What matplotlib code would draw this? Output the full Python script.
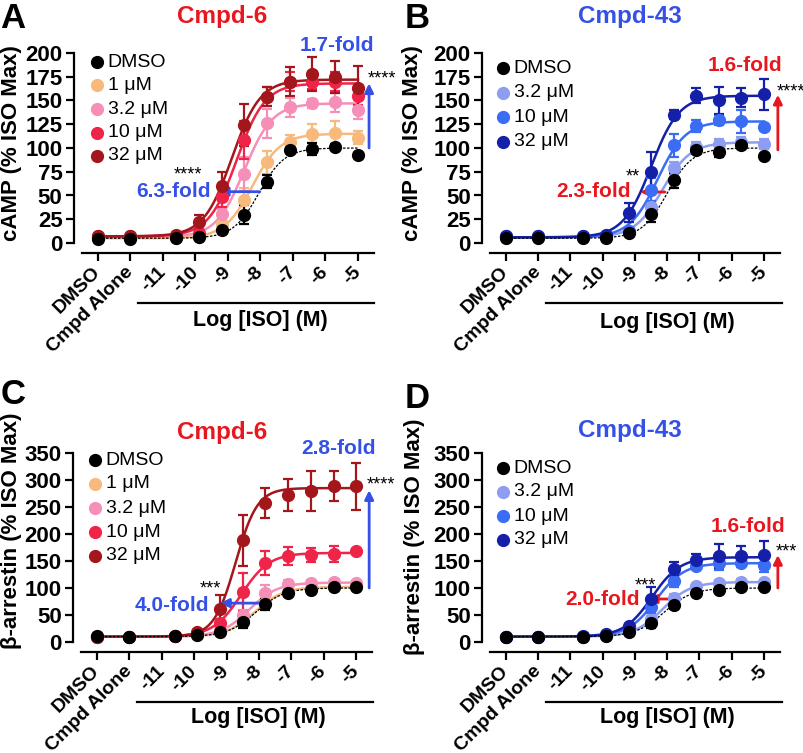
import numpy as np
import matplotlib.pyplot as plt
from matplotlib.lines import Line2D
from matplotlib.transforms import ScaledTranslation

plt.rcParams['font.family'] = ['Liberation Sans', 'DejaVu Sans']

W, H = 804, 753

# x axis: DMSO, Cmpd Alone, then Log [ISO] (M)
x_labels = ['DMSO', 'Cmpd Alone', '-11', '-10', '-9', '-8', '-7', '-6', '-5']
log_iso = [-10.6, -9.9, -9.2, -8.5, -7.8, -7.1, -6.4, -5.7, -5.0]

names_6 = ['DMSO', '1 μM', '3.2 μM', '10 μM', '32 μM']
names_43 = ['DMSO', '3.2 μM', '10 μM', '32 μM']
colors_6 = ['black', '#f8b97c', '#f58fb8', '#ee2448', '#a3161c']
colors_43 = ['black', '#8d9ef2', '#3a6cf4', '#1520a8']

# panel A - cAMP, Cmpd-6 (first two values: DMSO, Cmpd Alone)
a_vals = [
    [4, 4, 5, 6, 13.5, 29.5, 64.5, 98, 99, 101, 92.5],
    [6, 6, 5, 6, 20, 45, 85, 106, 115, 116, 111],
    [6, 6, 6, 8, 30, 73, 126, 143, 147, 148, 140],
    [7, 7, 7, 10, 48, 108, 154, 170, 170, 170, 155],
    [7, 7, 8, 22, 60, 124, 154, 170, 178, 175, 163],
]
a_errs = [
    [1, 1, 1, 1, 2, 10, 7, 3, 6, 3, 2],
    [1, 1, 1, 1, 3, 13, 12, 8, 10, 12, 7],
    [1, 1, 1, 2, 6, 18, 15, 10, 5, 10, 10],
    [1, 1, 1, 3, 10, 20, 10, 10, 8, 10, 10],
    [1, 1, 2, 7, 15, 22, 10, 15, 18, 17, 23],
]
# bottom, top, logEC50, hill
a_fits = [(5, 100, -8.05, 1.1), (5, 115, -8.25, 1.0), (6, 147, -8.5, 1.0),
          (7, 168, -8.73, 1.0), (7, 172, -8.88, 1.0)]

# panel B - cAMP, Cmpd-43
b_vals = [
    [5, 5, 5, 5.5, 11, 31, 66, 98, 96, 103, 91.5],
    [6, 6, 6, 7, 12, 38, 79, 101, 104, 106.5, 104],
    [7, 7, 7, 7, 13, 56, 103, 123, 129.5, 128, 122],
    [7, 7, 7, 8, 32, 75, 135, 155, 150, 153, 156.5],
]
b_errs = [
    [1, 1, 1, 1, 3, 9, 8, 3, 6, 3, 2],
    [1, 1, 1, 1, 2, 6, 6, 5, 5, 5, 5],
    [1, 1, 1, 1, 2, 12, 12, 6, 5, 12, 3],
    [1, 1, 1, 1, 10, 21, 5, 8, 14, 10, 16],
]
b_fits = [(5, 100, -8.0, 1.1), (6, 106, -8.15, 1.0), (6, 128, -8.3, 1.0),
          (6, 155, -8.5, 1.0)]

# panel C - beta-arrestin, Cmpd-6
c_vals = [
    [11, 9, 11, 13, 18, 36.5, 70, 91, 96, 101, 101],
    [11, 9, 11, 13, 19, 40, 72, 92, 98, 102, 102],
    [9, 9, 11, 14, 22, 50, 90, 107, 109, 112, 110],
    [10, 10, 11, 15, 35, 93, 146, 159, 161, 163, 168],
    [10, 10, 12, 18, 62, 188, 258, 272, 280, 289, 288],
]
c_errs = [
    [1, 1, 1, 1, 2, 10, 10, 4, 4, 3, 3],
    [1, 1, 1, 1, 2, 8, 8, 4, 4, 3, 3],
    [1, 1, 1, 1, 3, 10, 15, 8, 5, 5, 3],
    [1, 1, 1, 2, 8, 35, 22, 17, 13, 14, 3],
    [1, 1, 1, 3, 25, 48, 28, 30, 37, 27, 43],
]
c_fits = [(10, 100, -8.1, 1.0), (10, 102, -8.12, 1.0), (10, 110, -8.3, 1.0),
          (10, 165, -8.55, 1.0), (10, 285, -8.72, 1.3)]

# panel D - beta-arrestin, Cmpd-43
d_vals = [
    [10, 9, 10, 11, 18.5, 36, 68.5, 91, 96, 101, 101],
    [10, 10, 10, 12, 20, 42, 82, 103, 110, 112, 111],
    [10, 10, 10, 13, 25, 65, 113, 141, 146, 147, 143],
    [10, 10, 11, 15, 30, 79, 135, 151, 159, 159, 161],
]
d_errs = [
    [1, 1, 1, 1, 2, 10, 8, 4, 4, 3, 3],
    [1, 1, 1, 1, 2, 6, 6, 4, 4, 4, 4],
    [1, 1, 1, 1, 3, 12, 12, 5, 13, 8, 13],
    [1, 1, 1, 2, 4, 22, 13, 12, 22, 18, 26],
]
d_fits = [(10, 100, -8.1, 1.0), (10, 111, -8.15, 1.0), (10, 146, -8.35, 1.0),
          (10, 157, -8.47, 1.0)]

BLUE = '#3550e6'
RED = '#e8171f'


def fx(px):
    return px / W


def fy(py):
    return 1 - py / H


def logistic(x, bottom, top, logec50, hill):
    return bottom + (top - bottom) / (1 + 10 ** ((logec50 - x) * hill))


def draw_panel(fig, geo, ymax, ystep, names, colors, vals, errs, fits, ann):
    x0, dx, y0, s = geo
    left = x0 - 0.75 * dx
    right = x0 + 8.5 * dx
    top = y0 - ymax * s
    bottom = y0 + 10
    ax = fig.add_axes([fx(left), fy(bottom), (right - left) / W, (bottom - top) / H])
    ax.set_xlim(-0.75, 8.5)
    ax.set_ylim(-10 / s, ymax)

    xpos = [0, 1] + [v + 13 for v in log_iso]
    xc = np.linspace(0, 8, 300)
    order = list(range(1, len(names))) + [0]
    for i in order:
        b, t, ec, h = fits[i]
        if i == 0:
            ax.plot(xc, logistic(xc - 13, b, t, ec, h), color='black', lw=0.9,
                    ls=(0, (2, 1.2)), zorder=2)
        else:
            ax.plot(xc, logistic(xc - 13, b, t, ec, h), color=colors[i], lw=1.8, zorder=2)
        ax.errorbar(xpos, vals[i], yerr=errs[i], fmt='o', color=colors[i], ms=8.5,
                    elinewidth=1.6, capsize=3.5, capthick=1.6, clip_on=False, zorder=3)

    # legend
    ly = ann['legend_y']
    for i in range(len(names)):
        ax.plot(ann['legend_x'], ly[i], 'o', color=colors[i], ms=8.5, clip_on=False)
        ax.text(ann['legend_x'] + 0.33, ly[i], names[i], fontsize=14, va='center',
                ha='left')

    for sp in ['top', 'right']:
        ax.spines[sp].set_visible(False)
    ax.spines['left'].set_bounds(0, ymax)
    ax.spines['bottom'].set_bounds(-0.5, 8.5)
    ax.spines['left'].set_linewidth(1.6)
    ax.spines['bottom'].set_linewidth(1.6)
    ax.set_yticks(np.arange(0, ymax + 1, ystep))
    ax.set_yticklabels([str(int(v)) for v in np.arange(0, ymax + 1, ystep)],
                       fontweight='bold', fontsize=16)
    ax.set_xticks(range(9))
    ax.set_xticklabels(x_labels, rotation=45, ha='right', va='center',
                       rotation_mode='anchor', fontweight='bold', fontsize=14)
    shift = ScaledTranslation(0.04, -0.03, fig.dpi_scale_trans)
    for lab in ax.get_xticklabels():
        lab.set_transform(lab.get_transform() + shift)
    ax.tick_params(axis='both', width=1.6, length=6)
    ax.tick_params(axis='x', pad=6)
    ax.tick_params(axis='y', pad=2)

    # annotations
    c = ann['color']
    tx, ty, tail, head = ann['shift']
    ax.text(tx, ty, ann['shift_text'], color=c, fontsize=15, fontweight='bold',
            ha='center', va='center')
    ax.annotate('', xy=(head, ann['shift_y']), xytext=(tail, ann['shift_y']),
                arrowprops=dict(arrowstyle='-|>', color=c, lw=2, mutation_scale=13,
                                shrinkA=0, shrinkB=0))
    ax.text(ann['stars1'][0], ann['stars1'][1], ann['stars1'][2], fontsize=13,
            ha='center', va='center')
    fx_, fy_, ax_x, y_from, y_to = ann['max']
    ax.text(fx_, fy_, ann['max_text'], color=c, fontsize=15, fontweight='bold',
            ha='center', va='center', clip_on=False)
    ax.annotate('', xy=(ax_x, y_to), xytext=(ax_x, y_from),
                arrowprops=dict(arrowstyle='-|>', color=c, lw=2, mutation_scale=13,
                                shrinkA=0, shrinkB=0), annotation_clip=False)
    ax.text(ann['stars2'][0], ann['stars2'][1], ann['stars2'][2], fontsize=13,
            ha='center', va='center', clip_on=False)
    return ax


fig = plt.figure(figsize=(W / 100, H / 100), dpi=100)

ann_a = dict(color=BLUE, legend_x=-0.03, legend_y=[190.5, 165.8, 141, 116.3, 91.6],
             shift=(2.31, 53.7, 4.98, 3.72), shift_y=54, shift_text='6.3-fold',
             stars1=(2.77, 72, '****'), max=(7.35, 208, 8.34, 100, 168),
             max_text='1.7-fold', stars2=(8.74, 173, '****'))
ann_b = dict(color=RED, legend_x=-0.09, legend_y=[184.2, 158.4, 132.6, 106.8],
             shift=(2.70, 53.7, 4.93, 4.16), shift_y=53.7, shift_text='2.3-fold',
             stars1=(3.94, 70, '**'), max=(7.41, 187, 8.43, 98, 156),
             max_text='1.6-fold', stars2=(8.82, 159, '****'))
ann_c = dict(color=BLUE, legend_x=-0.06, legend_y=[337, 292.6, 248, 203.7, 159.3],
             shift=(2.31, 68.5, 5.25, 3.80), shift_y=72, shift_text='4.0-fold',
             stars1=(3.49, 99, '***'), max=(7.44, 359, 8.4, 100, 281),
             max_text='2.8-fold', stars2=(8.75, 290, '****'))
ann_d = dict(color=RED, legend_x=-0.09, legend_y=[322, 277.8, 233, 188.9],
             shift=(3.0, 77.8, 5.40, 4.40), shift_y=79.6, shift_text='2.0-fold',
             stars1=(4.31, 104, '***'), max=(7.5, 213, 8.43, 100, 161),
             max_text='1.6-fold', stars2=(8.7, 166, '***'))

draw_panel(fig, (98, 32.5, 243, 0.95), 200, 25, names_6, colors_6, a_vals, a_errs, a_fits, ann_a)
draw_panel(fig, (506, 32.25, 243, 0.95), 200, 25, names_43, colors_43, b_vals, b_errs, b_fits, ann_b)
draw_panel(fig, (97, 32.4, 642, 0.54), 350, 50, names_6, colors_6, c_vals, c_errs, c_fits, ann_c)
draw_panel(fig, (506, 32.25, 642, 0.54), 350, 50, names_43, colors_43, d_vals, d_errs, d_fits, ann_d)

# panel letters, titles, axis labels
for letter, px, py in [('A', 13, 19), ('B', 417, 19), ('C', 13, 395), ('D', 417, 399)]:
    fig.text(fx(px), fy(py), letter, fontsize=25, fontweight='bold', ha='center', va='center')
for title, col, px, py in [('Cmpd-6', RED, 222, 17), ('Cmpd-43', BLUE, 630, 17),
                           ('Cmpd-6', RED, 222, 432), ('Cmpd-43', BLUE, 630, 430)]:
    fig.text(fx(px), fy(py), title, color=col, fontsize=17.5, fontweight='bold',
             ha='center', va='center')
for lab, px, py in [('cAMP (% ISO Max)', 12, 143), ('cAMP (% ISO Max)', 413, 143),
                    ('β-arrestin (% ISO Max)', 12, 531),
                    ('β-arrestin (% ISO Max)', 415, 537)]:
    fig.text(fx(px), fy(py), lab, rotation=90, fontsize=16, fontweight='bold',
             ha='center', va='center')
for x1, x2, ly, ty, tx in [(138, 374, 303, 320, 260), (546, 782, 303, 322, 667),
                           (137, 373, 702, 718, 258), (546, 782, 702, 718, 667)]:
    fig.add_artist(Line2D([fx(x1), fx(x2)], [fy(ly), fy(ly)], color='black', lw=1.6))
    fig.text(fx(tx), fy(ty), 'Log [ISO] (M)', fontsize=15.5, fontweight='bold',
             ha='center', va='center')

fig.savefig('out.png', dpi=100)
